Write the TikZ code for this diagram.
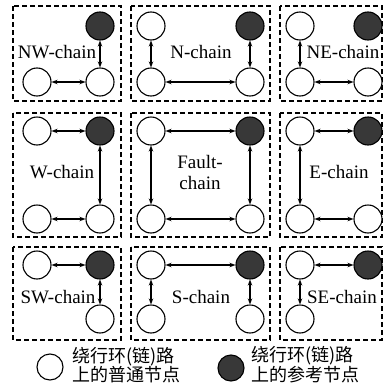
\documentclass[tikz,border=0pt]{standalone}
\usepackage{fontspec}
\setmainfont{Liberation Serif}
\newfontfamily\cjk{Noto Sans CJK SC}
\usetikzlibrary{arrows.meta}
\begin{document}
\begin{tikzpicture}[x=1pt,y=-1pt,
  region/.style={draw,dashed,line width=1.1pt,dash pattern=on 5pt off 3pt},
  plain/.style={circle,draw,line width=1.1pt,minimum size=28pt,inner sep=0pt,fill=white},
  refnode/.style={plain,fill=black!78},
  link/.style={line width=1.1pt,{Stealth[length=6pt,width=4.5pt]}-{Stealth[length=6pt,width=4.5pt]}},
  chainlabel/.style={font=\fontsize{19}{21}\selectfont,inner sep=0pt,align=center},
  legendtext/.style={font=\cjk\fontsize{18}{17}\selectfont,inner sep=0pt,align=left,anchor=west}]
\useasboundingbox (0,0) rectangle (389,386);

% dashed regions
\foreach \xa/\xb [count=\i] in {13/121,131/270,280/382}{
  \foreach \ya/\yb [count=\j] in {6/101,113/237,247/340}{
    \draw[region] (\xa,\ya) rectangle (\xb,\yb);
  }
}

% NW-chain
\node[refnode] (nw1) at (100,26) {};
\node[plain] (nw2) at (100,82) {};
\node[plain] (nw3) at (37,82) {};
\draw[link] (nw1) -- (nw2);
\draw[link] (nw3) -- (nw2);
\node[chainlabel] (lnw) at (57,52) {NW-chain};

% N-chain
\node[plain] (n1) at (151,26) {};
\node[plain] (n2) at (151,82) {};
\node[refnode] (n3) at (250,26) {};
\node[plain] (n4) at (250,82) {};
\draw[link] (n1) -- (n2);
\draw[link] (n2) -- (n4);
\draw[link] (n3) -- (n4);
\node[chainlabel] (ln) at (201,52) {N-chain};

% NE-chain
\node[plain] (ne1) at (300,26) {};
\node[plain] (ne2) at (300,82) {};
\node[refnode] (ne3) at (368,26) {};
\node[plain] (ne4) at (368,82) {};
\draw[link] (ne1) -- (ne2);
\draw[link] (ne2) -- (ne4);
\node[chainlabel] (lne) at (343,52) {NE-chain};

% W-chain
\node[plain] (w1) at (37,131) {};
\node[refnode] (w2) at (100,131) {};
\node[plain] (w3) at (37,219) {};
\node[plain] (w4) at (100,219) {};
\draw[link] (w1) -- (w2);
\draw[link] (w2) -- (w4);
\draw[link] (w3) -- (w4);
\node[chainlabel] (lw) at (62,172) {W-chain};

% Fault-chain
\node[plain] (f1) at (151,131) {};
\node[refnode] (f2) at (250,131) {};
\node[plain] (f3) at (151,219) {};
\node[plain] (f4) at (250,219) {};
\draw[link] (f1) -- (f2);
\draw[link] (f1) -- (f3);
\draw[link] (f3) -- (f4);
\draw[link] (f2) -- (f4);
\node[chainlabel] (lf) at (200,172) {Fault-\\chain};

% E-chain
\node[plain] (e1) at (300,131) {};
\node[refnode] (e2) at (368,131) {};
\node[plain] (e3) at (300,219) {};
\node[plain] (e4) at (368,219) {};
\draw[link] (e1) -- (e2);
\draw[link] (e1) -- (e3);
\draw[link] (e3) -- (e4);
\node[chainlabel] (le) at (339,172) {E-chain};

% SW-chain
\node[plain] (sw1) at (37,265) {};
\node[refnode] (sw2) at (100,265) {};
\node[plain] (sw3) at (100,319) {};
\draw[link] (sw1) -- (sw2);
\draw[link] (sw2) -- (sw3);
\node[chainlabel] (lsw) at (58,297) {SW-chain};

% S-chain
\node[plain] (s1) at (151,265) {};
\node[refnode] (s2) at (250,265) {};
\node[plain] (s3) at (151,319) {};
\node[plain] (s4) at (250,319) {};
\draw[link] (s1) -- (s2);
\draw[link] (s1) -- (s3);
\draw[link] (s2) -- (s4);
\node[chainlabel] (ls) at (201,297) {S-chain};

% SE-chain
\node[plain] (se1) at (300,265) {};
\node[refnode] (se2) at (368,265) {};
\node[plain] (se3) at (300,319) {};
\draw[link] (se1) -- (se2);
\draw[link] (se1) -- (se3);
\node[chainlabel] (lse) at (342,297) {SE-chain};

% legend
\node[plain,minimum size=26pt] (kplain) at (50,367) {};
\node[legendtext] (tplain) at (72,365) {绕行环(链)路\\上的普通节点};
\node[refnode,minimum size=26pt] (kref) at (231,368) {};
\node[legendtext] (tref) at (251,365) {绕行环(链)路\\上的参考节点};
\end{tikzpicture}
\end{document}
